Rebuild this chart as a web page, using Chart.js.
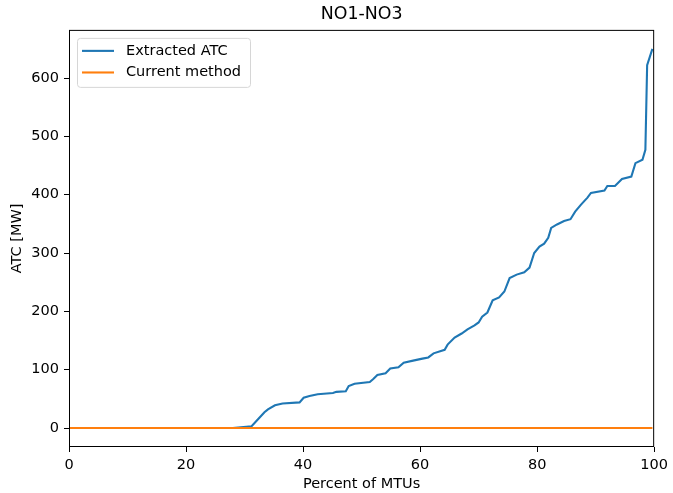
<!DOCTYPE html>
<html>
<head>
<meta charset="utf-8">
<script src="https://cdn.jsdelivr.net/npm/chart.js@4"></script>
<style>
  html, body { margin: 0; padding: 0; background: #fff; }
  #wrap { width: 673px; height: 493px; position: relative; }
</style>
</head>
<body>
<div id="wrap"><canvas id="atcChart"></canvas></div>
<script>
// data
const chartTitle = 'NO1-NO3';
const pctMTU = [0, 28.0, 31.2, 32.3, 33.4, 34.0, 35.2, 36.5, 39.4, 40.1, 41.1, 42.5, 45.1, 45.7, 47.3, 47.8,
  48.8, 51.4, 52.0, 52.7, 54.1, 54.9, 56.3, 57.2, 59.0, 60.4, 61.4, 62.3, 64.2, 64.7, 65.9, 67.1,
  68.1, 69.3, 70.0, 70.6, 71.5, 72.4, 73.5, 74.4, 75.3, 76.5, 77.8, 78.7, 79.5, 80.4, 81.2, 81.9,
  82.4, 83.4, 84.6, 85.7, 86.5, 87.5, 88.6, 89.2, 91.5, 92.0, 93.3, 94.5, 96.1, 96.8, 98.0, 98.5,
  98.8, 99.7];
const extractedATC = [0, 0, 3, 15, 27, 32, 39, 42, 44, 52, 55, 58, 60, 62, 63, 72,
  76, 79, 84, 91, 94, 102, 104, 112, 116, 119, 121, 128, 134, 143, 155, 162,
  169, 176, 181, 191, 198, 219, 224, 234, 257, 263, 267, 275, 300, 311, 316, 326,
  343, 349, 355, 358, 371, 383, 395, 403, 407, 415, 415, 427, 431, 454, 460, 477,
  622, 650];
const currentX = [0, 99.7];
const currentATC = [0, 0];
const xTickValues = [0, 20, 40, 60, 80, 100];
const yTickValues = [0, 100, 200, 300, 400, 500, 600];

const FONT = 'DejaVu Sans';
const FS = 14.5;

function toPoints(xs, ys) {
  return xs.map((x, i) => ({ x: x, y: ys[i] }));
}

// matplotlib style frame on all four sides
const frameBox = {
  id: 'frameBox',
  afterDatasetsDraw(chart) {
    const { ctx, chartArea: a } = chart;
    ctx.save();
    ctx.strokeStyle = '#000';
    ctx.lineWidth = 1;
    ctx.strokeRect(a.left + 0.5, a.top + 0.5, a.right - a.left - 1, a.bottom - a.top - 1);
    ctx.restore();
  }
};

// legend drawn inside the upper-left corner of the plot
const innerLegend = {
  id: 'innerLegend',
  afterDraw(chart) {
    const { ctx, chartArea: a } = chart;
    const sets = chart.data.datasets;
    const x0 = a.left + 8, y0 = a.top + 8;
    const w = 173, rowH = 21.6, h = 49;
    ctx.save();
    ctx.beginPath();
    ctx.roundRect(x0 + 0.5, y0 + 0.5, w, h, 3);
    ctx.fillStyle = 'rgba(255,255,255,0.8)';
    ctx.fill();
    ctx.strokeStyle = '#d6d6d6';
    ctx.lineWidth = 1;
    ctx.stroke();
    ctx.font = FS + 'px "' + FONT + '"';
    ctx.textBaseline = 'middle';
    sets.forEach((ds, i) => {
      const cy = y0 + 13 + i * rowH;
      ctx.beginPath();
      ctx.moveTo(x0 + 5, cy);
      ctx.lineTo(x0 + 37, cy);
      ctx.strokeStyle = ds.borderColor;
      ctx.lineWidth = 2.1;
      ctx.stroke();
      ctx.fillStyle = '#000';
      ctx.fillText(ds.label, x0 + 49, cy);
    });
    ctx.restore();
  }
};

new Chart(document.getElementById('atcChart'), {
  type: 'scatter',
  data: {
    datasets: [{
      label: 'Extracted ATC',
      data: toPoints(pctMTU, extractedATC),
      borderColor: '#1f77b4',
      backgroundColor: '#1f77b4',
      borderWidth: 2.1,
      showLine: true,
      pointRadius: 0,
      tension: 0,
      order: 1
    }, {
      label: 'Current method',
      data: toPoints(currentX, currentATC),
      borderColor: '#ff7f0e',
      backgroundColor: '#ff7f0e',
      borderWidth: 2.1,
      showLine: true,
      pointRadius: 0,
      order: 0
    }]
  },
  options: {
    responsive: true,
    maintainAspectRatio: false,
    animation: false,
    layout: { padding: { left: 0, right: 18, top: 0, bottom: 0 } },
    plugins: {
      legend: { display: false },
      tooltip: { enabled: false },
      title: {
        display: true,
        fullSize: false,
        text: chartTitle,
        color: '#000',
        font: { family: FONT, size: 17.4, weight: 'normal' },
        padding: { top: 4, bottom: 5 }
      }
    },
    scales: {
      x: {
        type: 'linear',
        min: 0,
        max: 100,
        afterBuildTicks: s => { s.ticks = xTickValues.map(v => ({ value: v })); },
        afterFit: s => { s.height = 46; },
        grid: { display: true, drawOnChartArea: false, drawTicks: true, tickLength: 5, color: '#000' },
        border: { display: false },
        ticks: { color: '#000', padding: 5, maxRotation: 0, font: { family: FONT, size: FS } },
        title: {
          display: true,
          text: 'Percent of MTUs',
          color: '#000',
          padding: { top: 0, bottom: 0 },
          font: { family: FONT, size: FS }
        }
      },
      y: {
        min: -32.5,
        max: 682.5,
        afterBuildTicks: s => { s.ticks = yTickValues.map(v => ({ value: v })); },
        afterFit: s => { s.width = 69; },
        grid: { display: true, drawOnChartArea: false, drawTicks: true, tickLength: 5, color: '#000' },
        border: { display: false },
        ticks: { color: '#000', padding: 5, font: { family: FONT, size: FS } },
        title: {
          display: true,
          text: 'ATC [MW]',
          color: '#000',
          padding: { top: 9, bottom: 0 },
          font: { family: FONT, size: FS }
        }
      }
    }
  },
  plugins: [frameBox, innerLegend]
});
</script>
</body>
</html>
